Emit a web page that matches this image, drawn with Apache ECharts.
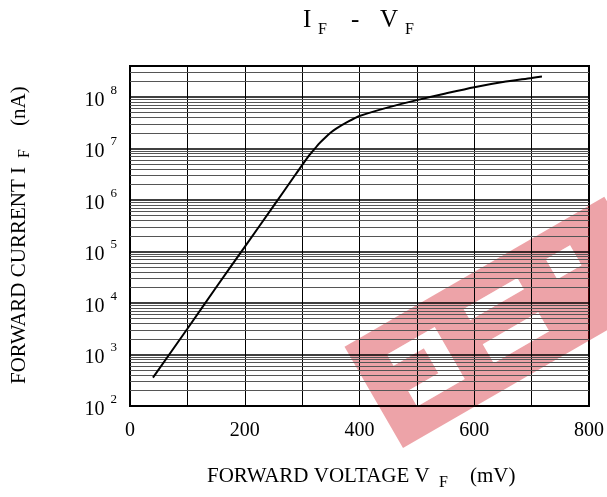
<!DOCTYPE html>
<html><head><meta charset="utf-8">
<script src="https://cdn.jsdelivr.net/npm/echarts@6/dist/echarts.min.js"></script>
<style>html,body{margin:0;padding:0;background:#fff}#c{width:607px;height:497px}</style>
</head><body><div id="c"></div>
<script>
// ---- data ----
const VOLTAGE_MV = [40, 100, 150, 200, 250, 290, 310, 320, 330, 340, 350, 360, 380, 400, 450, 500, 550, 600, 650, 700, 718];
const CURRENT_NA = [355, 3160, 2.0e4, 1.23e5, 7.6e5, 3.3e6, 6.8e6, 9.3e6, 1.26e7, 1.62e7, 2.04e7, 2.45e7, 3.31e7, 4.27e7, 6.3e7, 8.7e7, 1.17e8, 1.55e8, 1.95e8, 2.34e8, 2.51e8];
const X_LABELS = [0, 200, 400, 600, 800];
const Y_DECADE_EXPONENTS = [2, 3, 4, 5, 6, 7, 8];
const MINOR_MULTIPLIERS = [2, 3, 4, 5, 6, 7, 8, 9];
const Y_MIN = 100, Y_MAX = 4e8;

const FONT = 'Liberation Serif';
const minorValues = [];
Y_DECADE_EXPONENTS.forEach(e => MINOR_MULTIPLIERS.forEach(m => {
  const v = m * Math.pow(10, e);
  if (v < Y_MAX) minorValues.push(v);
}));

const chart = echarts.init(document.getElementById('c'), null, {renderer: 'canvas'});

const bandPts = [[0,0],
 [50,0],[50,-29],[33,-29],[33,-47],[68,-47],[68,-76],[33,-76],[33,-89],[88,-89],[88,-29],[50,-29],[50,0],
 [150,0],[150,-28],[121,-28],[121,-50],[185,-50],[185,-28],[150,-28],[150,0],
 [300,0],[300,-117],
 [232,-117],[232,-92],[246,-92],[246,-69],[218,-69],[218,-92],[232,-92],[232,-117],
 [150,-117],[150,-90],[184,-90],[184,-77],[122,-77],[122,-90],[150,-90],[150,-117],
 [0,-117]];
const holeFade = 'rgba(255,255,255,0.45)';

chart.setOption({
  animation: false,
  backgroundColor: '#fff',
  grid: {left: 130, right: 17, top: 66, bottom: 91, show: true, borderColor: '#000', borderWidth: 2, backgroundColor: 'transparent'},
  xAxis: {
    type: 'value', min: 0, max: 800, interval: 100,
    axisLine: {show: false}, axisTick: {show: false},
    splitLine: {show: true, lineStyle: {color: '#000', width: 1}},
    axisLabel: {
      margin: 15, color: '#000', fontFamily: FONT, fontSize: 20,
      showMinLabel: true, showMaxLabel: true,
      formatter: v => X_LABELS.indexOf(v) >= 0 ? String(v) : ''
    }
  },
  yAxis: {
    type: 'log', logBase: 10, min: Y_MIN, max: Y_MAX,
    axisLine: {show: false}, axisTick: {show: false},
    splitLine: {show: true, lineStyle: {color: '#000', width: 1.6}},
    axisLabel: {
      margin: 13, color: '#000', fontFamily: FONT,
      formatter: function (v) {
        const l = Math.log10(v), e = Math.round(l);
        if (Math.abs(l - e) > 1e-6 || Y_DECADE_EXPONENTS.indexOf(e) < 0) return '';
        return '{b|10}{s|' + e + '}';
      },
      rich: {
        b: {fontFamily: FONT, fontSize: 20, lineHeight: 20, color: '#000', padding: [7, 0, 0, 0]},
        s: {fontFamily: FONT, fontSize: 13, lineHeight: 13, color: '#000', padding: [0, 0, 13, 6]}
      }
    }
  },
  series: [{
    type: 'line',
    data: VOLTAGE_MV.map((v, i) => [v, CURRENT_NA[i]]),
    smooth: 0.25, showSymbol: false, symbol: 'none',
    lineStyle: {color: '#000', width: 2},
    z: 5,
    markLine: {
      silent: true, symbol: ['none', 'none'], label: {show: false},
      lineStyle: {color: '#555', width: 1, type: 'solid'},
      emphasis: {disabled: true},
      data: minorValues.map(v => ({yAxis: v}))
    }
  }],
  graphic: [
    // title  I_F - V_F
    {type: 'text', left: 303, top: 8, style: {text: 'I', font: '25px ' + FONT, fill: '#000'}},
    {type: 'text', left: 318, top: 22, style: {text: 'F', font: '16px ' + FONT, fill: '#000'}},
    {type: 'text', left: 351, top: 8, style: {text: '-', font: '25px ' + FONT, fill: '#000'}},
    {type: 'text', left: 380, top: 8, style: {text: 'V', font: '25px ' + FONT, fill: '#000'}},
    {type: 'text', left: 405, top: 22, style: {text: 'F', font: '16px ' + FONT, fill: '#000'}},
    // x axis title
    {type: 'text', left: 207, top: 466, style: {text: 'FORWARD VOLTAGE V', font: '21px ' + FONT, fill: '#000'}},
    {type: 'text', left: 439, top: 475, style: {text: 'F', font: '16px ' + FONT, fill: '#000'}},
    {type: 'text', left: 470, top: 466, style: {text: '(mV)', font: '21px ' + FONT, fill: '#000'}},
    // y axis title (rotated)
    {type: 'group', x: 9, y: 384, rotation: Math.PI / 2, children: [
      {type: 'text', x: 0, y: 0, style: {text: 'FORWARD CURRENT I', font: '21px ' + FONT, fill: '#000', textVerticalAlign: 'top'}},
      {type: 'text', x: 226, y: 8, style: {text: 'F', font: '16px ' + FONT, fill: '#000', textVerticalAlign: 'top'}},
      {type: 'text', x: 258, y: 0, style: {text: '(nA)', font: '21px ' + FONT, fill: '#000', textVerticalAlign: 'top'}}
    ]},
    // watermark
    {type: 'group', x: 403, y: 448, rotation: Math.PI / 6, z: 100, silent: true, children: [
      {type: 'polygon', shape: {points: bandPts}, style: {fill: 'rgba(205,0,15,0.36)'}},
      {type: 'polygon', shape: {points: [[33,-89],[88,-89],[88,-29],[33,-29],[33,-47],[68,-47],[68,-76],[33,-76]]}, style: {fill: holeFade}},
      {type: 'rect', shape: {x: 121, y: -50, width: 64, height: 22}, style: {fill: holeFade}},
      {type: 'rect', shape: {x: 122, y: -90, width: 62, height: 13}, style: {fill: holeFade}},
      {type: 'rect', shape: {x: 218, y: -92, width: 28, height: 23}, style: {fill: holeFade}}
    ]}
  ]
});
</script>
</body></html>
